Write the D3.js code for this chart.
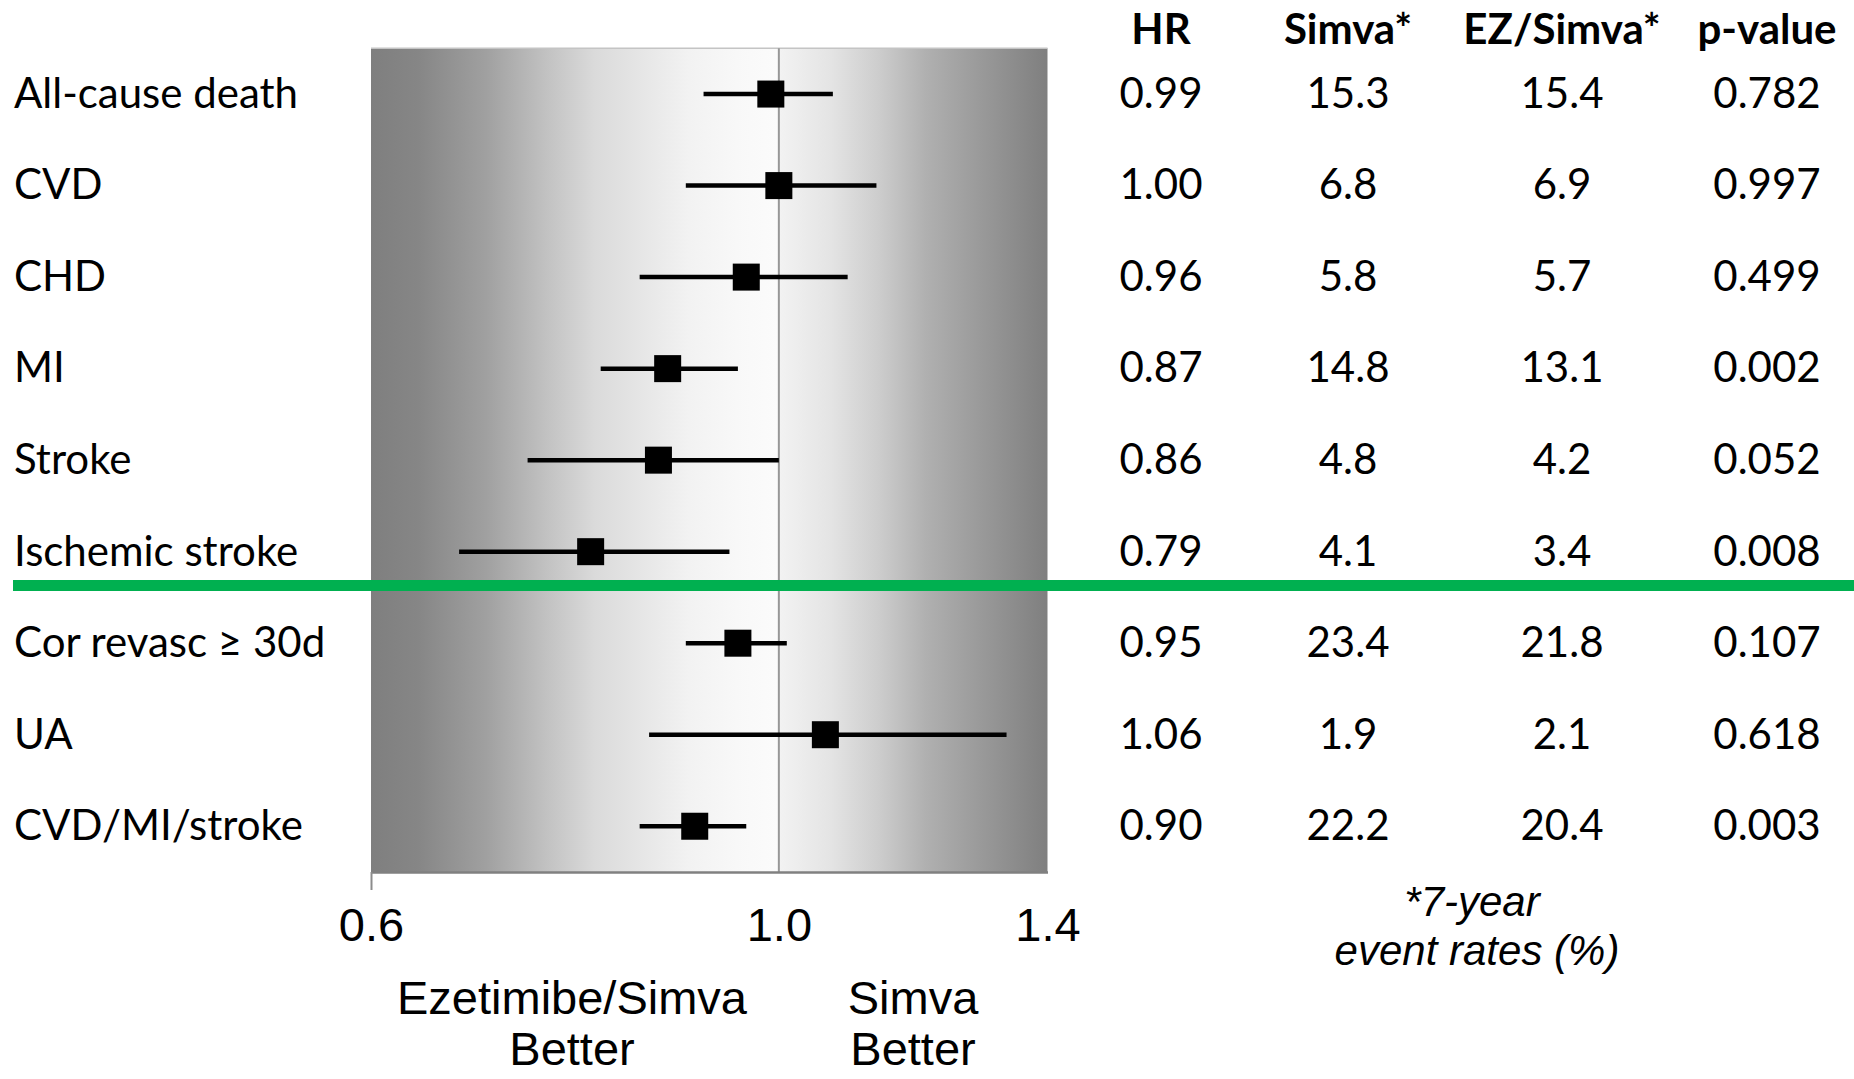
<!DOCTYPE html>
<html>
<head>
<meta charset="utf-8">
<script src="https://cdn.jsdelivr.net/npm/d3@7"></script>
<style>
  body { margin: 0; background: #ffffff; }
  svg { display: block; }
</style>
</head>
<body>
<div class="forest"></div>
<script>
// outcome rows, top to bottom
let OUTCOMES = ["All-cause death", "CVD", "CHD", "MI", "Stroke", "Ischemic stroke",
                "Cor revasc \u2265 30d", "UA", "CVD/MI/stroke"];
let HR = [0.99, 1.00, 0.96, 0.87, 0.86, 0.79, 0.95, 1.06, 0.90];
let CI_LOW = [0.91, 0.89, 0.84, 0.80, 0.73, 0.67, 0.89, 0.85, 0.84];
let CI_HIGH = [1.07, 1.13, 1.09, 0.95, 1.00, 0.94, 1.01, 1.33, 0.96];
let SIMVA = ["15.3", "6.8", "5.8", "14.8", "4.8", "4.1", "23.4", "1.9", "22.2"];
let EZ_SIMVA = ["15.4", "6.9", "5.7", "13.1", "4.2", "3.4", "21.8", "2.1", "20.4"];
let P_VALUES = ["0.782", "0.997", "0.499", "0.002", "0.052", "0.008", "0.107", "0.618", "0.003"];
let HEADERS = ["HR", "Simva*", "EZ/Simva*", "p-value"];
let X_TICKS = [0.6, 1.0, 1.4];
let SPLIT_AFTER = "Ischemic stroke";

let FRAME_WIDTH = 1854;
let FRAME_HEIGHT = 1079;
let PLOT = {left: 371, right: 1047.5, top: 48.3, bottom: 872};
let COLS = [1161, 1348, 1562, 1767];

let LABEL_FONT = "Lato, 'Open Sans', sans-serif";
let AXIS_FONT = "'Liberation Sans', Arial, sans-serif";

let FRAME = d3.select(".forest")
              .append("svg")
              .attr("width", FRAME_WIDTH)
              .attr("height", FRAME_HEIGHT);

// log scale for hazard ratio
const X_SCALE = d3.scaleLog()
                  .domain([0.6, 1.4])
                  .range([PLOT.left, PLOT.right]);

const Y_SCALE = d3.scaleBand()
                  .domain(OUTCOMES)
                  .range([PLOT.top, PLOT.bottom]);

const rowY = (d) => Y_SCALE(d) + Y_SCALE.bandwidth() / 2;

let rows = OUTCOMES.map((name, i) => ({
  name: name, hr: HR[i], lo: CI_LOW[i], hi: CI_HIGH[i],
  simva: SIMVA[i], ez: EZ_SIMVA[i], p: P_VALUES[i]
}));

// gray shading, dark at the ends, light near 1.0
let defs = FRAME.append("defs");
let grad = defs.append("linearGradient")
               .attr("id", "shade")
               .attr("x1", "0%").attr("x2", "100%")
               .attr("y1", "0%").attr("y2", "0%");
let mid = (X_SCALE(1.0) - PLOT.left) / (PLOT.right - PLOT.left);
let stops = [
  [0, "#7f7f7f"], [0.07, "#868686"], [0.17, "#a0a0a0"], [0.26, "#c2c2c2"],
  [0.33, "#dadada"], [0.40, "#e6e6e6"], [0.47, "#f2f2f2"], [0.54, "#f8f8f8"],
  [mid, "#fbfbfb"], [mid + 0.002, "#f2f2f2"], [0.68, "#e4e4e4"], [0.75, "#cdcdcd"],
  [0.82, "#b0b0b0"], [0.90, "#9a9a9a"], [1, "#7f7f7f"]
];
grad.selectAll("stop")
    .data(stops)
    .enter()
    .append("stop")
      .attr("offset", (d) => d[0])
      .attr("stop-color", (d) => d[1]);

FRAME.append("rect")
     .attr("x", PLOT.left)
     .attr("y", PLOT.top)
     .attr("width", PLOT.right - PLOT.left)
     .attr("height", PLOT.bottom - PLOT.top)
     .attr("fill", "url(#shade)");

// thin light rim on top
FRAME.append("line")
     .attr("x1", PLOT.left).attr("x2", PLOT.right)
     .attr("y1", PLOT.top).attr("y2", PLOT.top)
     .attr("stroke", "#c4c4c4")
     .attr("stroke-width", 1.5);

// reference line at HR = 1
FRAME.append("line")
     .attr("x1", X_SCALE(1.0)).attr("x2", X_SCALE(1.0))
     .attr("y1", PLOT.top).attr("y2", PLOT.bottom)
     .attr("stroke", "#979797")
     .attr("stroke-width", 2);

// bottom axis
let axis = FRAME.append("g")
     .attr("transform", "translate(0," + PLOT.bottom + ")")
     .call(d3.axisBottom(X_SCALE)
             .tickValues(X_TICKS)
             .tickFormat(d3.format(".1f"))
             .tickSizeInner(18)
             .tickSizeOuter(0)
             .tickPadding(18));
axis.select(".domain").attr("stroke", "#808080").attr("stroke-width", 2.5);
axis.selectAll(".tick line")
    .attr("stroke", "#8c8c8c")
    .attr("stroke-width", 2)
    .attr("opacity", (d) => d === 0.6 ? 1 : 0);
axis.selectAll(".tick text")
    .attr("font-family", AXIS_FONT)
    .attr("font-size", 47)
    .attr("fill", "#000");

// confidence intervals
FRAME.selectAll(".ci")
     .data(rows)
     .enter()
     .append("line")
       .attr("class", "ci")
       .attr("x1", (d) => X_SCALE(d.lo))
       .attr("x2", (d) => X_SCALE(d.hi))
       .attr("y1", (d) => rowY(d.name))
       .attr("y2", (d) => rowY(d.name))
       .attr("stroke", "#000")
       .attr("stroke-width", 4.5);

// point estimates
let SQ = 27;
FRAME.selectAll(".est")
     .data(rows)
     .enter()
     .append("rect")
       .attr("class", "est")
       .attr("x", (d) => X_SCALE(d.hr) - SQ / 2)
       .attr("y", (d) => rowY(d.name) - SQ / 2)
       .attr("width", SQ)
       .attr("height", SQ)
       .attr("fill", "#000");

// separator between primary and secondary outcomes
let splitY = Y_SCALE(SPLIT_AFTER) + Y_SCALE.bandwidth() - 12;
FRAME.append("line")
     .attr("x1", 13).attr("x2", FRAME_WIDTH)
     .attr("y1", splitY).attr("y2", splitY)
     .attr("stroke", "#00b050")
     .attr("stroke-width", 11);

// outcome labels
FRAME.selectAll(".label")
     .data(rows)
     .enter()
     .append("text")
       .attr("class", "label")
       .attr("x", 14)
       .attr("y", (d) => rowY(d.name))
       .attr("dy", "0.33em")
       .attr("font-family", LABEL_FONT)
       .attr("font-size", 42)
       .text((d) => d.name);

// table headers
FRAME.selectAll(".head")
     .data(HEADERS)
     .enter()
     .append("text")
       .attr("class", "head")
       .attr("x", (d, i) => COLS[i])
       .attr("y", 44)
       .attr("text-anchor", "middle")
       .attr("font-family", LABEL_FONT)
       .attr("font-weight", "bold")
       .attr("font-size", 42)
       .text((d) => d);

// table cells
let cellText = [(d) => d3.format(".2f")(d.hr), (d) => d.simva, (d) => d.ez, (d) => d.p];
cellText.forEach((fn, c) => {
  FRAME.selectAll(".cell" + c)
       .data(rows)
       .enter()
       .append("text")
         .attr("class", "cell" + c)
         .attr("x", COLS[c])
         .attr("y", (d) => rowY(d.name))
         .attr("dy", "0.33em")
         .attr("text-anchor", "middle")
         .attr("font-family", LABEL_FONT)
         .attr("font-size", 42)
         .text(fn);
});

// footnote
let note = FRAME.append("text")
     .attr("font-family", AXIS_FONT)
     .attr("font-style", "italic")
     .attr("font-size", 42)
     .attr("text-anchor", "middle");
note.append("tspan").attr("x", 1472).attr("y", 916).text("*7-year");
note.append("tspan").attr("x", 1477).attr("y", 965).text("event rates (%)");

// which side is better
let better = [
  {x: 572, lines: ["Ezetimibe/Simva", "Better"]},
  {x: 913, lines: ["Simva", "Better"]}
];
better.forEach((b) => {
  let t = FRAME.append("text")
       .attr("font-family", AXIS_FONT)
       .attr("font-size", 47)
       .attr("text-anchor", "middle");
  b.lines.forEach((s, i) => {
    t.append("tspan").attr("x", b.x).attr("y", 1014 + i * 51).text(s);
  });
});
</script>
</body>
</html>
